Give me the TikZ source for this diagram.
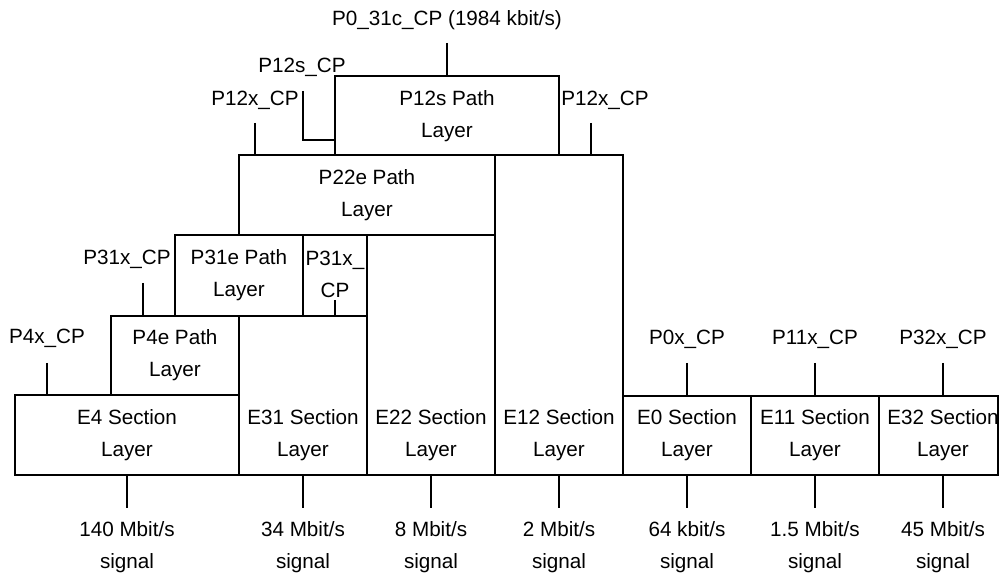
\documentclass[tikz,border=0pt]{standalone}
\usepackage{fontspec}
\setmainfont{Liberation Sans}
\usetikzlibrary{fit}
\begin{document}
\begin{tikzpicture}[x=0.75pt,y=-0.75pt,
  box/.style={draw, inner sep=0pt, line width=1.5pt},
  txt/.style={align=center, inner sep=0pt, font=\fontsize{15.5}{24}\selectfont},
  conn/.style={line width=1.5pt},
  thinconn/.style={line width=0.9pt}]
\useasboundingbox (0,0) rectangle (1000,577);

% boxes
\node[box, fit={(335,76) (559,155)}] (p12s) {};
\node[box, fit={(239,155) (495,235)}] (p22e) {};
\node[box, fit={(175,235) (303,316)}] (p31e) {};
\node[box, fit={(303,235) (367,316)}] (p31x) {};
\node[box, fit={(111,316) (239,395)}] (p4e) {};
\node[box, fit={(15,395) (239,475)}] (e4) {};
\node[box, fit={(239,316) (367,475)}] (e31) {};
\node[box, fit={(367,235) (495,475)}] (e22) {};
\node[box, fit={(495,155) (623,475)}] (e12) {};
\node[box, fit={(623,396) (751,475)}] (e0) {};
\node[box, fit={(751,396) (879,475)}] (e11) {};
\node[box, fit={(879,396) (998,475)}] (e32) {};

% box texts
\node[txt] (p12sT) at (447,116) {P12s Path\\Layer};
\node[txt] (p22eT) at (367,195) {P22e Path\\Layer};
\node[txt] (p31eT) at (239,275) {P31e Path\\Layer};
\node[txt] (p31xT) at (335,274) {P31x\_\\CP};
\node[txt] (p4eT) at (175,355) {P4e Path\\Layer};
\node[txt] (e4T) at (127,435) {E4 Section\\Layer};
\node[txt] (e31T) at (303,435) {E31 Section\\Layer};
\node[txt] (e22T) at (431,435) {E22 Section\\Layer};
\node[txt] (e12T) at (559,435) {E12 Section\\Layer};
\node[txt] (e0T) at (687,435) {E0 Section\\Layer};
\node[txt] (e11T) at (815,435) {E11 Section\\Layer};
\node[txt] (e32T) at (943,435) {E32 Section\\Layer};

% connection point labels
\node[txt] (l0) at (447,20) {P0\_31c\_CP (1984 kbit/s)};
\node[txt] (l12s) at (302,67) {P12s\_CP};
\node[txt] (l12xa) at (255,100) {P12x\_CP};
\node[txt] (l12xb) at (605,100) {P12x\_CP};
\node[txt] (l31x) at (127,259) {P31x\_CP};
\node[txt] (l4x) at (47,338) {P4x\_CP};
\node[txt] (l0x) at (687,339) {P0x\_CP};
\node[txt] (l11x) at (815,339) {P11x\_CP};
\node[txt] (l32x) at (943,339) {P32x\_CP};

% signal labels
\node[txt] (s4) at (127,547) {140 Mbit/s\\signal};
\node[txt] (s31) at (303,547) {34 Mbit/s\\signal};
\node[txt] (s22) at (431,547) {8 Mbit/s\\signal};
\node[txt] (s12) at (559,547) {2 Mbit/s\\signal};
\node[txt] (s0) at (687,547) {64 kbit/s\\signal};
\node[txt] (s11) at (815,547) {1.5 Mbit/s\\signal};
\node[txt] (s32) at (943,547) {45 Mbit/s\\signal};

% connector free ends
\coordinate (c0) at (447,43);
\coordinate (c12s) at (303,91);
\coordinate (j12s) at (335,140);
\coordinate (c12xa) at (255,123);
\coordinate (c12xb) at (591,123);
\coordinate (c31x) at (143,283);
\coordinate (c31xin) at (335,300);
\coordinate (c4x) at (47,363);
\coordinate (c0x) at (687,363);
\coordinate (c11x) at (815,363);
\coordinate (c32x) at (943,363);
\coordinate (d4) at (127,508);
\coordinate (d31) at (303,508);
\coordinate (d22) at (431,508);
\coordinate (d12) at (559,508);
\coordinate (d0) at (687,508);
\coordinate (d11) at (815,508);
\coordinate (d32) at (943,508);

% connectors
\draw[conn] (c0) -- (c0 |- p12s.north);
\draw[conn] (c12s) |- (j12s);
\draw[conn] (c12xa) -- (c12xa |- p22e.north);
\draw[conn] (c12xb) -- (c12xb |- e12.north);
\draw[conn] (c31x) -- (c31x |- p4e.north);
\draw[conn] (c31xin) -- (c31xin |- p31x.south);
\draw[thinconn] (c4x) -- (c4x |- e4.north);
\draw[conn] (c0x) -- (c0x |- e0.north);
\draw[conn] (c11x) -- (c11x |- e11.north);
\draw[conn] (c32x) -- (c32x |- e32.north);

\draw[conn] (d4 |- e4.south) -- (d4);
\draw[conn] (d31 |- e31.south) -- (d31);
\draw[conn] (d22 |- e22.south) -- (d22);
\draw[conn] (d12 |- e12.south) -- (d12);
\draw[conn] (d0 |- e0.south) -- (d0);
\draw[conn] (d11 |- e11.south) -- (d11);
\draw[conn] (d32 |- e32.south) -- (d32);
\end{tikzpicture}
\end{document}
